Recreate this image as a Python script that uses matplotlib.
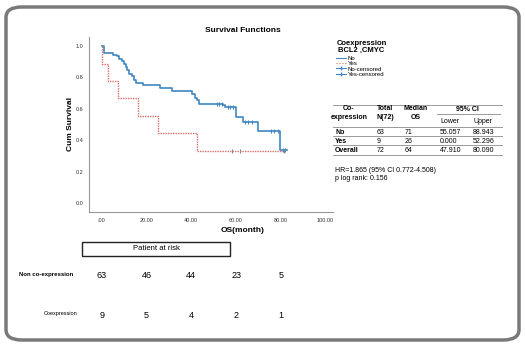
import matplotlib
matplotlib.use("Agg")
import matplotlib.pyplot as plt
from matplotlib.lines import Line2D
from matplotlib.patches import Rectangle, FancyBboxPatch
import matplotlib.transforms as mtransforms

plt.rcParams['font.family'] = ['Liberation Sans', 'DejaVu Sans']

# Kaplan-Meier steps (months, cumulative survival)
no_t = [0, 1, 5.2, 6.7, 7.9, 8.9, 10.1, 10.7, 11.2, 12.3, 13.4, 14.6, 15.3, 18.6,
        26, 31.5, 40.4, 41.5, 42.5, 43.5, 54, 55, 60, 63, 70, 79.6, 82.6]
no_s = [1.0, 0.955, 0.945, 0.935, 0.92, 0.905, 0.888, 0.867, 0.85, 0.825, 0.809,
        0.786, 0.765, 0.75, 0.733, 0.714, 0.695, 0.669, 0.655, 0.634, 0.625, 0.612,
        0.549, 0.517, 0.458, 0.341, 0.341]
no_cens_t = [51.5, 52.5, 53.5, 56.5, 57.5, 58.6, 64, 65.5, 67, 75.5, 77, 78.8, 81, 82]
no_cens_s = [0.634, 0.634, 0.634, 0.612, 0.612, 0.612, 0.517, 0.517, 0.517,
             0.458, 0.458, 0.458, 0.341, 0.341]

yes_t = [0, 0, 2.7, 7.4, 16.3, 25.3, 42.4, 81.4]
yes_s = [1.0, 0.889, 0.778, 0.667, 0.556, 0.444, 0.333, 0.333]
yes_cens_t = [58, 61.7, 81.4]
yes_cens_s = [0.333, 0.333, 0.333]

x_ticks = [0, 20, 40, 60, 80, 100]
x_tick_labels = ['.00', '20.00', '40.00', '60.00', '80.00', '100.00']
y_ticks = [0.0, 0.2, 0.4, 0.6, 0.8, 1.0]

table_header = ['Co-\nexpression', 'Total\nN(72)', 'Median\nOS']
table_groups = ['No', 'Yes', 'Overall']
table_total = ['63', '9', '72']
table_median = ['71', '26', '64']
table_lower = ['55.057', '0.000', '47.910']
table_upper = ['88.943', '52.296', '80.090']

risk_times = [0, 20, 40, 60, 80]
risk_non = [63, 46, 44, 23, 5]
risk_co = [9, 5, 4, 2, 1]

W, H = 525, 347
BLUE = '#3f86c2'
RED = '#dd6b6b'


def fx(x):
    return x / W


def fy(y):
    return 1 - y / H


fig = plt.figure(figsize=(5.25, 3.47), dpi=100)

# rounded grey frame
frame = FancyBboxPatch((fx(6), fy(340)), fx(513), 333 / H,
                       boxstyle="round,pad=0,rounding_size=0.03",
                       transform=fig.transFigure, fill=False,
                       edgecolor='#7a7a7a', linewidth=2.5)
fig.patches.append(frame)

ax = fig.add_axes([fx(89), fy(212), fx(333) - fx(89), (212 - 37) / H])
ax.step(no_t, no_s, where='post', color=BLUE, linewidth=1.2)
ax.step(yes_t, yes_s, where='post', color=RED, linewidth=1.0, linestyle=(0, (1, 0.8)))
ax.plot(no_cens_t, no_cens_s, linestyle='none', marker='|', color=BLUE,
        markersize=3, markeredgewidth=0.8)
ax.plot(yes_cens_t, yes_cens_s, linestyle='none', marker='|', color='#888888',
        markersize=3, markeredgewidth=0.8)

ax.set_xlim(-5.7, 103.3)
ax.set_ylim(-0.057, 1.058)
ax.set_xticks(x_ticks)
ax.set_xticklabels(x_tick_labels)
ax.set_yticks(y_ticks)
ax.set_yticklabels([f'{v:.1f}' for v in y_ticks])
ax.tick_params(length=0, labelsize=4, colors='#333333', pad=4)
for s in ['top', 'right']:
    ax.spines[s].set_visible(False)
for s in ['left', 'bottom']:
    ax.spines[s].set_color('#999999')
    ax.spines[s].set_linewidth(0.8)

fig.text(fx(243), fy(31), 'Survival Functions', ha='center', va='center',
         fontsize=6, fontweight='bold')
fig.text(fx(70), fy(124), 'Cum Survival', ha='center', va='center',
         rotation=90, fontsize=6, fontweight='bold')
fig.text(fx(243), fy(231), 'OS(month)', ha='center', va='center',
         fontsize=6, fontweight='bold')

# legend (title drawn separately so the gap matches)
fig.text(fx(361.5), fy(46.5), 'Coexpression\nBCL2 ,CMYC', ha='center',
         va='center', fontsize=5.5, fontweight='bold', linespacing=0.95)
handles = [
    Line2D([], [], color=BLUE, linewidth=0.8),
    Line2D([], [], color=RED, linewidth=0.8, linestyle=':'),
    Line2D([], [], color=BLUE, linewidth=0.8, marker='|', markersize=3),
    Line2D([], [], color=BLUE, linewidth=0.8, marker='|', markersize=3),
]
fig.legend(handles, ['No', 'Yes', 'No-censored', 'Yes-censored'],
           loc='upper left', bbox_to_anchor=(fx(336), fy(56)), frameon=False,
           fontsize=4.3, handlelength=1.6, handletextpad=0.3, labelspacing=0.0,
           borderpad=0, borderaxespad=0)

# median survival table
fs = 5
line_kw = dict(transform=fig.transFigure, color='#9a9a9a', linewidth=0.7)
fig.add_artist(Line2D([fx(333), fx(502)], [fy(105), fy(105)], **line_kw))
fig.add_artist(Line2D([fx(437), fx(500)], [fy(114), fy(114)], **line_kw))
fig.add_artist(Line2D([fx(333), fx(502)], [fy(126.5), fy(126.5)], **line_kw))
for yl in [136, 145.5, 155]:
    fig.add_artist(Line2D([fx(333), fx(502)], [fy(yl), fy(yl)], **line_kw))

head_x = [349, 385, 416]
for hx, txt in zip(head_x, table_header):
    fig.text(fx(hx), fy(113), txt, ha='center', va='center', fontsize=fs,
             fontweight='bold', linespacing=1.3)
fig.text(fx(467), fy(109.5), '95% CI', ha='center', va='center', fontsize=fs,
         fontweight='bold')
fig.text(fx(440), fy(121.5), 'Lower', ha='left', va='center', fontsize=fs)
fig.text(fx(473), fy(121.5), 'Upper', ha='left', va='center', fontsize=fs)

row_y = [132, 141.5, 151]
for i, ry in enumerate(row_y):
    fig.text(fx(335), fy(ry), table_groups[i], ha='left', va='center',
             fontsize=fs, fontweight='bold')
    fig.text(fx(377), fy(ry), table_total[i], ha='left', va='center', fontsize=fs)
    fig.text(fx(405), fy(ry), table_median[i], ha='left', va='center', fontsize=fs)
    fig.text(fx(440), fy(ry), table_lower[i], ha='left', va='center', fontsize=fs)
    fig.text(fx(473), fy(ry), table_upper[i], ha='left', va='center', fontsize=fs)

fig.text(fx(335), fy(170.5), 'HR=1.865 (95% CI 0.772-4.508)', ha='left',
         va='center', fontsize=fs)
fig.text(fx(335), fy(178.5), 'p log rank: 0.156', ha='left', va='center',
         fontsize=fs)

# patients at risk
fig.patches.append(Rectangle((fx(82), fy(256)), fx(230) - fx(82), 14 / H,
                             transform=fig.transFigure, fill=False,
                             edgecolor='#222222', linewidth=1.0))
fig.text(fx(156), fy(249), 'Patient at risk', ha='center', va='center',
         fontsize=5.5)
fig.text(fx(73), fy(274.5), 'Non co-expression', ha='right', va='center',
         fontsize=4.3, fontweight='bold')
fig.text(fx(77), fy(313.5), 'Coexpression', ha='right', va='center', fontsize=4)

risk_tr = mtransforms.blended_transform_factory(ax.transData, fig.transFigure)
for t, a, b in zip(risk_times, risk_non, risk_co):
    ax.text(t, fy(276), str(a), transform=risk_tr, ha='center', va='center',
            fontsize=6.5, clip_on=False)
    ax.text(t, fy(315), str(b), transform=risk_tr, ha='center', va='center',
            fontsize=6.5, clip_on=False)

fig.savefig('out.png', dpi=100)
